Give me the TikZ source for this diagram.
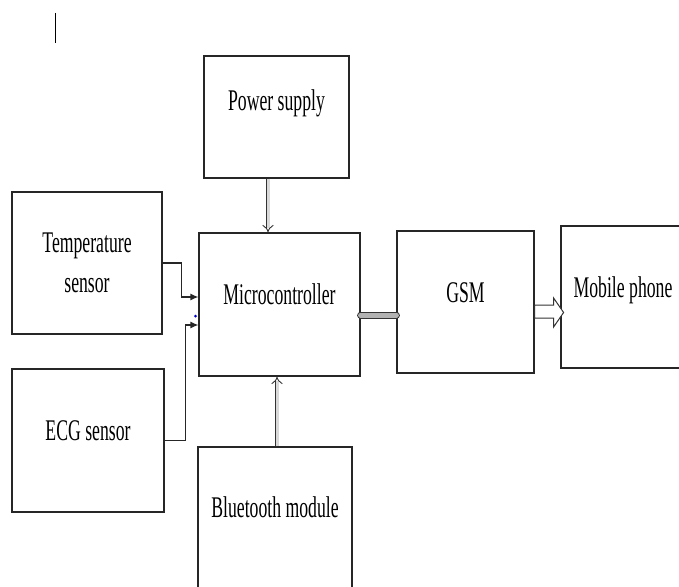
\documentclass[tikz,border=0pt]{standalone}
\usepackage{fontspec}
\newfontfamily\boxfont[FakeStretch=0.59]{Liberation Serif}
\usetikzlibrary{arrows.meta,calc}

\begin{document}
\begin{tikzpicture}[x=1pt,y=-1pt,
    box/.style={draw=black!85, line width=1.2pt, align=center, inner sep=0pt,
        font=\boxfont\fontsize{30}{40}\selectfont},
    oneline/.style={text height=20pt, text depth=20pt},
    wire/.style={draw=black!85, line width=1.2pt, -{Latex[length=8pt,width=7pt]}},
    hollow/.style={draw=black!80, line width=0.9pt, double=gray!30,
        double distance=3pt, -{Implies}},
    bar/.style={draw=black!80, line width=1pt, double=gray!60,
        double distance=5pt, line cap=round}]
    \clip (0,0) rectangle (679,586);
    \draw[line width=1pt] (55,13) -- (55,43);
    % blocks
    \node[box, oneline, text depth=34pt, minimum width=145, minimum height=122] (pwr) at (276.5,117) {Power supply};
    \node[box, minimum width=150, minimum height=142] (tmp) at (87,263) {Temperature\\sensor};
    \node[box, oneline, minimum width=161, minimum height=143] (mcu) at (279.5,304.5) {Microcontroller};
    \node[box, oneline, minimum width=137, minimum height=142] (gsm) at (465.5,302) {GSM};
    \node[box, oneline, minimum width=124, minimum height=142] (mob) at (623,297) {Mobile phone};
    \node[box, oneline, minimum width=152, minimum height=143] (ecg) at (88,440.5) {ECG sensor};
    \node[box, oneline, text depth=30pt, minimum width=154, minimum height=150] (blt) at (275,522) {Bluetooth module};
    % connectors
    \coordinate (pwrout) at ([xshift=-8.5]pwr.south);
    \draw[hollow] (pwrout) -- (pwrout |- mcu.north);
    \coordinate (bltout) at ([xshift=2]blt.north);
    \draw[hollow] (bltout) -- (bltout |- mcu.south);
    \draw[wire] (tmp.east) -- ++(19,0) |- ([yshift=7.5]mcu.west);
    \draw[wire] (ecg.east) -- ++(21,0) |- ([yshift=-20.5]mcu.west);
    \fill[blue!80!black] (195.5,316) circle (1.5);
    \coordinate (mcuout) at ([yshift=-10.5]mcu.east);
    \draw[bar] (mcuout) -- (mcuout -| gsm.west);
    \draw[draw=black!80, line width=1pt, fill=white] (gsm.east) ++(0,3) -- ++(19,0) -- ++(0,-7)
        -- ++(10,14.5) -- ++(-10,14.5) -- ++(0,-9) -- ++(-19,0) -- cycle;
\end{tikzpicture}
\end{document}
